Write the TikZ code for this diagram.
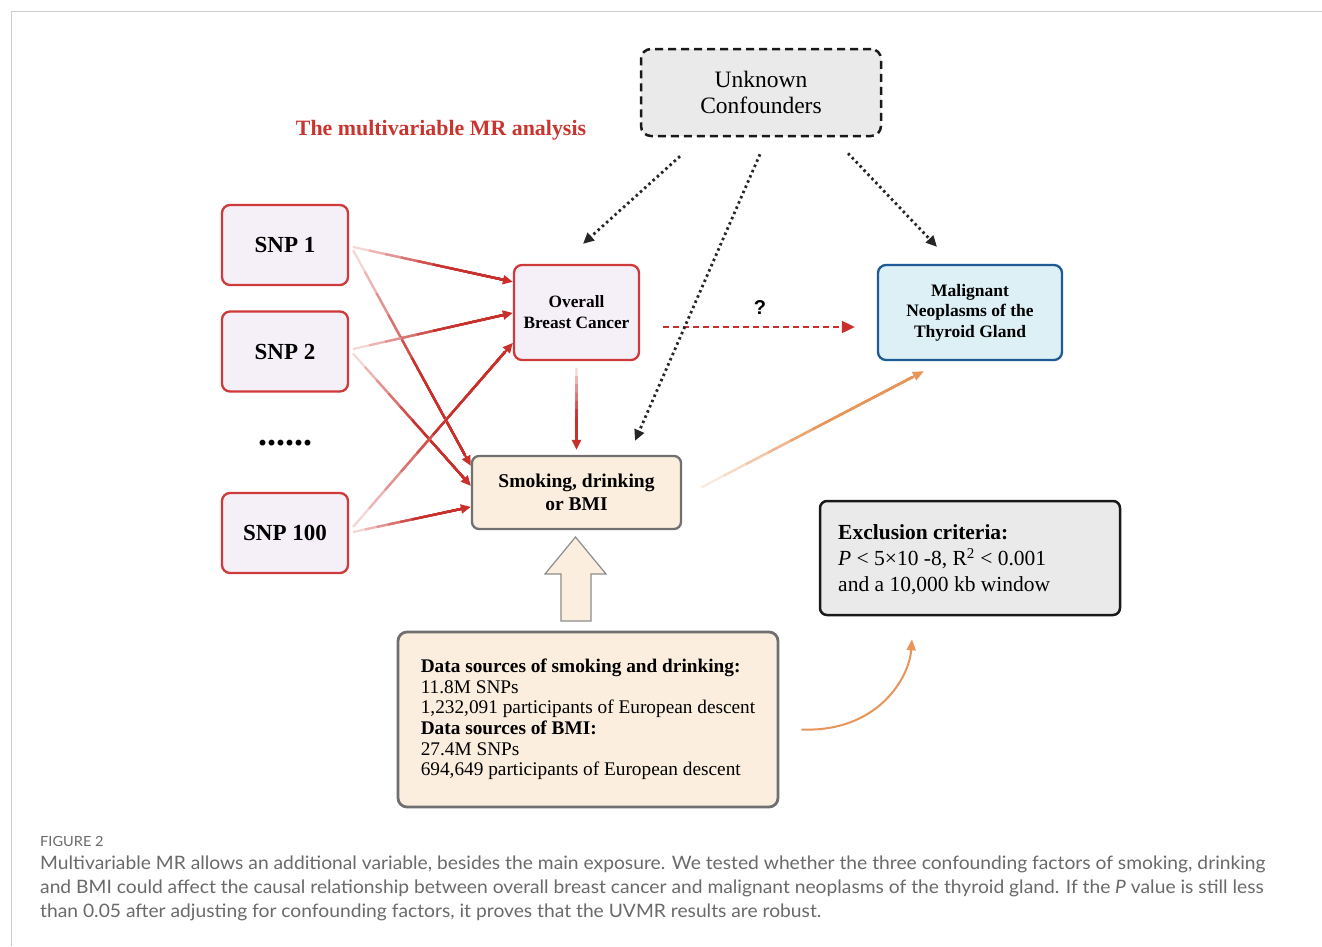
\documentclass[tikz,border=0pt]{standalone}
\usepackage{fontspec}
\setmainfont{Liberation Serif}
\newfontfamily\capfont[FakeStretch=1.04]{Lato}
\newfontfamily\qfont{Liberation Sans}
\usetikzlibrary{arrows.meta,calc}
\definecolor{arrowred}{HTML}{C9302C}
\definecolor{boxred}{HTML}{D0393A}
\definecolor{titlered}{HTML}{C8352E}
\definecolor{snpfill}{HTML}{F5F0F8}
\definecolor{peach}{HTML}{FCEEDE}
\definecolor{greyline}{HTML}{707070}
\definecolor{bluefill}{HTML}{DDF0F5}
\definecolor{blueline}{HTML}{1E5A96}
\definecolor{lightgrey}{HTML}{EAEAEA}
\definecolor{orangearrow}{HTML}{E8955A}
\definecolor{capgrey}{HTML}{6A6A6A}
\definecolor{framegrey}{HTML}{CCCCCC}
\newcommand\myfade[4]{%
  \foreach \i in {0,...,9}{%
    \pgfmathsetmacro\pa{\i/10}%
    \pgfmathtruncatemacro\pc{min(100,20+16*\i)}%
    \draw[line width=2.2, draw=#1!\pc!white] ($(#3)!\pa!(#4)$) -- ($(#3)!0.95!(#4)$);
  }%
  \draw[#2] ($(#3)!0.9!(#4)$) -- (#4);
}
\tikzset{
  snpbox/.style={draw=boxred, fill=snpfill, line width=2.3, rounded corners=8,
    minimum width=126, minimum height=80, inner sep=0, outer sep=0,
    font=\bfseries\fontsize{23}{26}\selectfont},
  redarrow/.style={draw=arrowred, line width=2.2, -{Triangle[length=10,width=9]}},
  orangetip/.style={draw=orangearrow, line width=2, -{Triangle[length=11,width=9]}},
  dotarrow/.style={draw=black!85, line width=2.8, dash pattern=on 2.5 off 3.2,
    -{Triangle[length=11,width=10]}},
  captext/.style={anchor=base west, inner sep=0, text=capgrey, font=\capfont\fontsize{18.5}{24}\selectfont},
}
\begin{document}
\begin{tikzpicture}[x=1pt,y=-1pt]
\useasboundingbox (0,0) rectangle (1322,946);
\fill[white] (0,0) rectangle (1322,946);
% frame
\draw[framegrey, line width=1] (11,946) -- (11,11) -- (1322,11);

% nodes
\node[draw=black!90, fill=lightgrey, line width=2.5, dash pattern=on 8 off 5, rounded corners=10,
  minimum width=240, minimum height=87, inner sep=0, align=center,
  font=\fontsize{23.5}{26}\selectfont] (unk) at (761,92.5) {Unknown\\Confounders};

\node[text=titlered, font=\bfseries\fontsize{21.9}{24}\selectfont] (title) at (441,130) {The multivariable MR analysis};

\node[snpbox] (snp1) at (285,245) {SNP 1};
\node[snpbox] (snp2) at (285,351.5) {SNP 2};
\node[font=\bfseries\fontsize{36}{36}\selectfont, inner sep=0] (dots) at (285,443.5) {......};
\node[snpbox] (snp100) at (285,533) {SNP 100};

\node[draw=boxred, fill=snpfill, line width=2.3, rounded corners=8,
  minimum width=125, minimum height=95, inner sep=0, align=center,
  font=\bfseries\fontsize{17.3}{21}\selectfont] (obc) at (576.5,312.5) {Overall\\Breast Cancer};

\node[draw=greyline, fill=peach, line width=2.3, rounded corners=7,
  minimum width=209, minimum height=73, inner sep=0, align=center,
  font=\bfseries\fontsize{19.5}{23}\selectfont] (smk) at (576.5,492.5) {Smoking, drinking\\or BMI};

\node[draw=blueline, fill=bluefill, line width=2.3, rounded corners=8,
  minimum width=184, minimum height=95, inner sep=0, align=center,
  font=\bfseries\fontsize{17.5}{20.5}\selectfont] (mal) at (970,312.5) {Malignant\\Neoplasms of the\\Thyroid Gland};

\node[draw=black!90, fill=lightgrey, line width=2.5, rounded corners=7,
  minimum width=300, minimum height=114, inner sep=0] (exc) at (970,558) {};
\node[anchor=west, align=left, inner sep=0, font=\fontsize{21.5}{26}\selectfont] (exctext) at (838,560)
  {\textbf{Exclusion criteria:}\\\textit{P} < 5×10 -8, R\textsuperscript{2} < 0.001\\and a 10,000 kb window};

\node[draw=greyline, fill=peach, line width=2.8, rounded corners=9,
  minimum width=380, minimum height=175, inner sep=0, align=left,
  font=\fontsize{19.3}{20.6}\selectfont] (data) at (588,719.5)
  {\textbf{Data sources of smoking and drinking:}\\11.8M SNPs\\1,232,091 participants of European descent\\\textbf{Data sources of BMI:}\\27.4M SNPs\\694,649 participants of European descent};

% block arrow
\draw[fill=peach, draw=black!45, line width=1.2] (561,621) -- (561,574) -- (545,574) -- (575.5,537) -- (606,574) -- (591,574) -- (591,621) -- cycle;

% red faded arrows from SNPs
\coordinate (s1a) at ($(snp1.east)+(5,2)$);
\coordinate (s1b) at ($(snp1.east)+(5,5)$);
\coordinate (s2a) at ($(snp2.east)+(5,-2.5)$);
\coordinate (s2b) at ($(snp2.east)+(5,2)$);
\coordinate (s3a) at ($(snp100.east)+(5,-6)$);
\coordinate (s3b) at ($(snp100.east)+(5,-1)$);
\coordinate (o1) at ($(obc.north west)+(0,18)$);
\coordinate (o2) at ($(obc.north west)+(0,49)$);
\coordinate (o3) at ($(obc.north west)+(0,79)$);
\coordinate (m1) at ($(smk.north west)+(0,11)$);
\coordinate (m2) at ($(smk.north west)+(0,31)$);
\coordinate (m3) at ($(smk.north west)+(0,52)$);
\myfade{arrowred}{redarrow}{s1a}{o1}
\myfade{arrowred}{redarrow}{s1b}{m1}
\myfade{arrowred}{redarrow}{s2a}{o2}
\myfade{arrowred}{redarrow}{s2b}{m2}
\myfade{arrowred}{redarrow}{s3a}{o3}
\myfade{arrowred}{redarrow}{s3b}{m3}
\coordinate (ob) at ($(obc.south)+(0,7)$);
\coordinate (st) at ($(smk.north)+(0,-5)$);
\myfade{arrowred}{redarrow}{ob}{st}

% red dashed question arrow
\draw[draw=arrowred, line width=2, dash pattern=on 6 off 4, -{Triangle[length=13,width=12]}]
  ($(obc.east)+(23,14.5)$) -- ($(mal.west)+(-22,14.5)$);
\node[font=\qfont\bfseries\fontsize{20}{22}\selectfont, inner sep=0] (q) at (760,308) {?};

% dotted arrows from unknown confounders
\draw[dotarrow] ($(unk.south)+(-81,19)$) -- ($(obc.north)+(6.5,-20)$);
\draw[dotarrow] ($(unk.south)+(-1,17)$) -- ($(smk.north)+(58.5,-14)$);
\draw[dotarrow] ($(unk.south)+(87,16)$) -- ($(mal.north)+(-33,-17)$);

% orange arrows
\coordinate (os) at ($(smk.east)+(19,-5)$);
\coordinate (oe) at ($(mal.south west)+(47,10)$);
\myfade{orangearrow}{orangetip}{os}{oe}
\coordinate (cs) at ($(data.east)+(22,10)$);
\coordinate (ce) at ($(exc.south)+(-58,23)$);
\draw[orangetip] (cs) .. controls ($(cs)+(75,3)$) and ($(ce)+(-3,40)$) .. (ce);

% caption
\node[anchor=base west, inner sep=0, text=capgrey, font=\capfont\fontsize{14}{16}\selectfont] (fig) at (40,846) {FIGURE 2};
\node[captext] (cap1) at (40,869)
  {Multivariable MR allows an additional variable, besides the main exposure. We tested whether the three confounding factors of smoking, drinking};
\node[captext] (cap2) at (40,893)
  {and BMI could affect the causal relationship between overall breast cancer and malignant neoplasms of the thyroid gland. If the \textit{P} value is still less};
\node[captext] (cap3) at (40,917)
  {than 0.05 after adjusting for confounding factors, it proves that the UVMR results are robust.};
\end{tikzpicture}
\end{document}
